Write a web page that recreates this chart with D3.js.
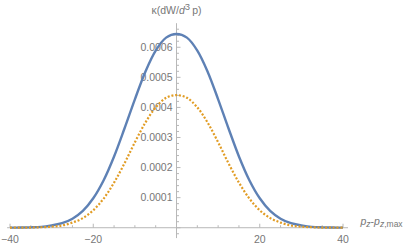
<!DOCTYPE html>
<html>
<head>
<meta charset="utf-8">
<script src="https://cdn.jsdelivr.net/npm/d3@7"></script>
<style>
  body { margin: 0; background: #fff; }
  text { font-family: "Liberation Sans", Arial, sans-serif; }
</style>
</head>
<body>
<script>
// data (values x 1e-4)
var pz = [-40, -37.5, -35, -32.5, -30, -27.5, -25, -22.5, -20, -17.5, -15, -12.5, -10, -7.5, -5, -2.5,
  0, 2.5, 5, 7.5, 10, 12.5, 15, 17.5, 20, 22.5, 25, 27.5, 30, 32.5, 35, 37.5, 40];
var kappaA = [0.002, 0.005, 0.012, 0.03, 0.08, 0.15, 0.30, 0.56, 0.98, 1.58, 2.37, 3.30, 4.27, 5.18, 5.89, 6.32,
  6.44, 6.32, 5.89, 5.18, 4.27, 3.30, 2.37, 1.58, 0.98, 0.56, 0.30, 0.15, 0.08, 0.03, 0.012, 0.005, 0.002];
var kappaB = [0.001, 0.002, 0.006, 0.015, 0.035, 0.075, 0.17, 0.32, 0.58, 0.97, 1.50, 2.14, 2.84, 3.49, 4.00, 4.32,
  4.41, 4.32, 4.00, 3.49, 2.84, 2.14, 1.50, 0.97, 0.58, 0.32, 0.17, 0.075, 0.035, 0.015, 0.006, 0.002, 0.001];
var xMajor = [-40, -20, 20, 40];
var yMajor = [0.0001, 0.0002, 0.0003, 0.0004, 0.0005, 0.0006];

var svgWidth = 415;
var svgHeight = 248;

var svg = d3.select("body")
  .append("svg")
  .attr("width", svgWidth)
  .attr("height", svgHeight);

var x = d3.scaleLinear().domain([-40.7, 41.2]).range([7.1, 348]);
var y = d3.scaleLinear().domain([-0.0000345, 0.00068]).range([238.1, 23.2]);

var axisColor = "#b8b8b8";
var labelColor = "#777";

// x axis line + ticks (ticks point up)
svg.append("line")
  .attr("x1", x(-40.7)).attr("x2", x(41.2))
  .attr("y1", y(0)).attr("y2", y(0))
  .attr("stroke", axisColor).attr("stroke-width", 1);

var xMinor = d3.range(-40, 41, 5);
svg.selectAll("line.xt")
  .data(xMinor)
  .enter().append("line")
  .attr("class", "xt")
  .attr("x1", d => x(d)).attr("x2", d => x(d))
  .attr("y1", y(0))
  .attr("y2", d => y(0) - (d % 20 === 0 ? 4 : 2.5))
  .attr("stroke", axisColor);

svg.selectAll("text.xl")
  .data(xMajor)
  .enter().append("text")
  .attr("class", "xl")
  .attr("x", d => x(d))
  .attr("y", 243)
  .attr("text-anchor", "middle")
  .attr("font-size", 10.5)
  .attr("fill", labelColor)
  .text(d => (d < 0 ? "\u2212" : "") + Math.abs(d));

// y axis line + ticks (ticks point right)
svg.append("line")
  .attr("x1", x(0)).attr("x2", x(0))
  .attr("y1", y(-0.0000345)).attr("y2", y(0.00068))
  .attr("stroke", axisColor).attr("stroke-width", 1);

var yMinor = d3.range(-1, 34).map(i => i * 0.00002);
svg.selectAll("line.yt")
  .data(yMinor)
  .enter().append("line")
  .attr("class", "yt")
  .attr("x1", x(0))
  .attr("x2", (d, i) => x(0) + ((i - 1) % 5 === 0 ? 4 : 2.5))
  .attr("y1", d => y(d)).attr("y2", d => y(d))
  .attr("stroke", axisColor);

svg.selectAll("text.yl")
  .data(yMajor)
  .enter().append("text")
  .attr("class", "yl")
  .attr("x", x(0) - 4)
  .attr("y", d => y(d) + 3.8)
  .attr("text-anchor", "end")
  .attr("font-size", 10.5)
  .attr("fill", labelColor)
  .text(d => d.toFixed(4));

// curves
var line = function(vals) {
  return d3.line()
    .x((d, i) => x(pz[i]))
    .y(d => y(d * 1e-4))
    .curve(d3.curveCatmullRom)(vals);
};

svg.append("path")
  .attr("d", line(kappaA))
  .attr("fill", "none")
  .attr("stroke", "#5e81b5")
  .attr("stroke-width", 2.4);

svg.append("path")
  .attr("d", line(kappaB))
  .attr("fill", "none")
  .attr("stroke", "#e19c24")
  .attr("stroke-width", 2.2)
  .attr("stroke-dasharray", "2,1.8");

// axis labels
var yLab = svg.append("text")
  .attr("x", x(0))
  .attr("y", 14)
  .attr("text-anchor", "middle")
  .attr("font-size", 10.5)
  .attr("fill", labelColor);
yLab.append("tspan").text("\u03ba(dW/");
yLab.append("tspan").attr("font-style", "italic").text("d");
yLab.append("tspan").attr("dy", -4).attr("font-size", 9.5).text("3");
yLab.append("tspan").attr("dy", 4).text("\u2009p)");

var xLab = svg.append("text")
  .attr("x", 360.5)
  .attr("y", 225)
  .attr("font-size", 10.5)
  .attr("fill", labelColor);
xLab.append("tspan").attr("font-style", "italic").text("p");
xLab.append("tspan").attr("dy", 2).attr("font-size", 8.5).attr("font-style", "italic").text("z");
xLab.append("tspan").attr("dy", -2).text("-");
xLab.append("tspan").attr("font-style", "italic").text("p");
xLab.append("tspan").attr("dy", 2).attr("font-size", 8.5).attr("font-style", "italic").text("z");
xLab.append("tspan").attr("font-size", 8.5).text(",max");
</script>
</body>
</html>
